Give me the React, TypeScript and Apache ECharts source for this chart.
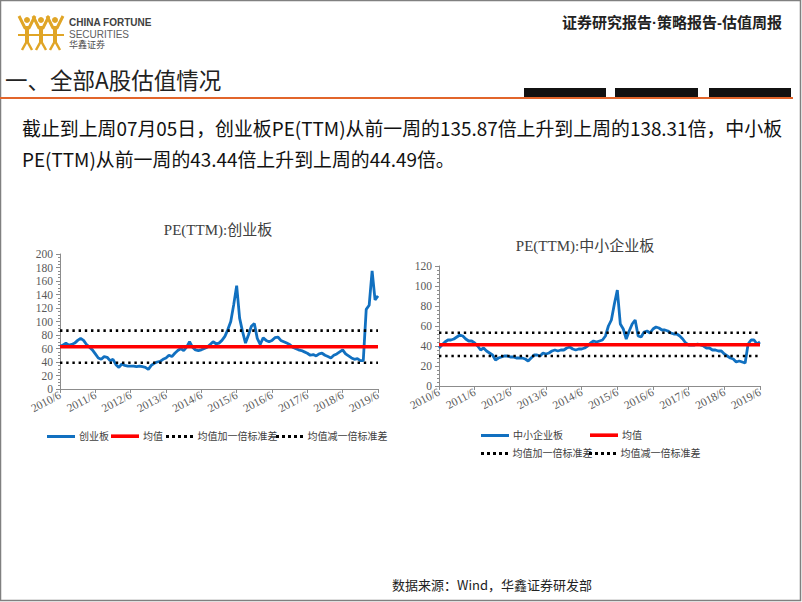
import React, { useEffect, useRef } from "react";
import * as echarts from "echarts";

// Month categories 2010/6 ... 2019/6
const months: string[] = [];
for (let y = 2010; y <= 2019; y++) {
  for (let m = 1; m <= 12; m++) {
    if ((y === 2010 && m < 6) || (y === 2019 && m > 6)) continue;
    months.push(`${y}/${m}`);
  }
}

// 创业板 PE(TTM), monthly readings from the picture
const cybPE = [
  63, 65, 68, 65, 66, 68, 72, // 2010/6-12
  75, 72, 66, 62, 58, 52, 46, 44, 48, 47, 42, 44, // 2011
  36, 32, 37, 35, 34, 34, 34, 33, 34, 33, 32, 29, // 2012
  35, 38, 40, 41, 44, 46, 50, 48, 53, 57, 60, 57, // 2013
  62, 70, 62, 58, 57, 58, 60, 62, 66, 70, 67, 68, // 2014
  72, 78, 88, 100, 125, 153, 105, 85, 68, 80, 93, 97, // 2015
  75, 66, 76, 72, 70, 72, 76, 77, 72, 70, 68, 66, // 2016
  62, 60, 58, 57, 55, 53, 50, 51, 49, 52, 53, 50, // 2017
  48, 46, 50, 52, 55, 58, 52, 49, 46, 44, 45, 42, // 2018
  42, 118, 124, 175, 132, 138, // 2019/1-6
];

// 中小企业板 PE(TTM), monthly readings from the picture
const zxbPE = [
  38, 41, 44, 46, 46, 47, 49, // 2010/6-12
  51, 50, 47, 45, 45, 43, 40, 36, 38, 35, 33, 31, // 2011
  26, 28, 29, 30, 30, 29, 29, 28, 28, 28, 27, 25, // 2012
  28, 31, 31, 30, 33, 32, 33, 35, 36, 35, 36, 36, // 2013
  38, 39, 37, 36, 37, 37, 38, 40, 43, 45, 44, 45, // 2014
  46, 50, 60, 66, 82, 96, 62, 57, 47, 55, 62, 66, // 2015
  50, 49, 54, 55, 53, 57, 59, 58, 56, 56, 55, 53, // 2016
  52, 52, 50, 47, 43, 41, 41, 41, 42, 41, 40, 38, // 2017
  38, 36, 36, 35, 35, 32, 30, 28, 27, 24, 25, 24, // 2018
  23, 42, 46, 46, 42, 44, // 2019/1-6
];

const cybMean = 62.5;
const cybUpper = 86.5;
const cybLower = 39;
const zxbMean = 41.3;
const zxbUpper = 53.3;
const zxbLower = 30;

const cybTicks = { min: 0, max: 200, interval: 20 };
const zxbTicks = { min: 0, max: 120, interval: 20 };

const SERIF = "'Liberation Serif', 'DejaVu Serif', 'Noto Sans CJK SC', serif";
const SANS = "'Noto Sans CJK SC', 'Noto Sans', sans-serif";
const BLUE = "#1170C0";
const RED = "#FF0000";
const AXIS = "#8C8C8C";
const LABEL = "#595959";

const DOT_ICON = "path://M0,0h3v3h-3zM6,0h3v3h-3zM12,0h3v3h-3zM18,0h3v3h-3zM24,0h3v3h-3z";

function xAxisFor(gridIndex: number) {
  return {
    gridIndex,
    type: "category",
    data: months,
    boundaryGap: false,
    axisLine: { lineStyle: { color: AXIS, width: 1 } },
    axisTick: { interval: 11, length: 4, lineStyle: { color: AXIS } },
    axisLabel: {
      interval: 11,
      rotate: 28,
      fontSize: 11.5,
      color: LABEL,
      fontFamily: SERIF,
      margin: 5,
    },
    splitLine: { show: false },
  };
}

function yAxisFor(gridIndex: number, t: { min: number; max: number; interval: number }, minorSplit: number) {
  return {
    gridIndex,
    type: "value",
    min: t.min,
    max: t.max,
    interval: t.interval,
    axisLine: { show: true, lineStyle: { color: AXIS, width: 1 } },
    axisTick: { show: true, length: 4, lineStyle: { color: AXIS } },
    minorTick: { show: true, splitNumber: minorSplit, length: 2, lineStyle: { color: AXIS } },
    axisLabel: { fontSize: 11.5, color: LABEL, fontFamily: SERIF, margin: 7 },
    splitLine: { show: false },
  };
}

function refLines(gi: number, mean: number, upper: number, lower: number) {
  const dotted = { color: "#000", width: 2.6, type: [2.4, 3.8], cap: "butt" };
  return [
    {
      type: "line", name: "均值", xAxisIndex: gi, yAxisIndex: gi,
      data: months.map(() => mean), symbol: "none", z: 4,
      lineStyle: { color: RED, width: 3.6 }, itemStyle: { color: RED },
    },
    {
      type: "line", name: "均值加一倍标准差", xAxisIndex: gi, yAxisIndex: gi,
      data: months.map(() => upper), symbol: "none", z: 5,
      lineStyle: dotted, itemStyle: { color: "#000" },
    },
    {
      type: "line", name: "均值减一倍标准差", xAxisIndex: gi, yAxisIndex: gi,
      data: months.map(() => lower), symbol: "none", z: 5,
      lineStyle: dotted, itemStyle: { color: "#000" },
    },
  ];
}

function legendItem(name: string, left: number, top: number, icon: string, h: number) {
  return {
    data: [{ name, icon }],
    left,
    top: top + (10 - h) / 2,
    itemWidth: 28,
    itemHeight: h,
    itemGap: 0,
    padding: 0,
    selectedMode: false,
    textStyle: { fontSize: 10, color: "#404040", fontFamily: SERIF, padding: [0, 0, 0, -1] },
  };
}

function logoFigure(cx: number) {
  const gold = "#E0A526";
  return [
    { type: "circle", shape: { cx, cy: 20, r: 3 }, style: { fill: gold } },
    {
      type: "polyline",
      shape: { points: [[cx - 8, 16], [cx - 2, 28], [cx + 2, 28], [cx + 8, 16]] },
      style: { stroke: gold, lineWidth: 3, fill: null, lineJoin: "round" },
    },
    { type: "line", shape: { x1: cx, y1: 26, x2: cx, y2: 42 }, style: { stroke: gold, lineWidth: 4 } },
    {
      type: "polyline",
      shape: { points: [[cx - 5, 50], [cx, 41], [cx + 5, 50]] },
      style: { stroke: gold, lineWidth: 2.5, fill: null },
    },
  ];
}

export default function App() {
  const ref = useRef<HTMLDivElement>(null);
  useEffect(() => {
    if (!ref.current) return;
    const chart = echarts.init(ref.current, undefined, { renderer: "svg" });
    const option: any = {
      animation: false,
      backgroundColor: "#ffffff",
      title: [
        {
          text: "PE(TTM):创业板",
          left: 213,
          top: 217,
          textAlign: "center",
          textStyle: { fontSize: 15, fontWeight: "normal", color: "#404040", fontFamily: SERIF },
        },
        {
          text: "PE(TTM):中小企业板",
          left: 580,
          top: 233,
          textAlign: "center",
          textStyle: { fontSize: 15, fontWeight: "normal", color: "#404040", fontFamily: SERIF },
        },
      ],
      grid: [
        { left: 60, top: 254, width: 318, height: 135, containLabel: false },
        { left: 439, top: 266, width: 321, height: 120, containLabel: false },
      ],
      xAxis: [xAxisFor(0), xAxisFor(1)],
      yAxis: [yAxisFor(0, cybTicks, 4), yAxisFor(1, zxbTicks, 5)],
      legend: [
        legendItem("创业板", 47, 428, "rect", 3),
        legendItem("均值", 111, 428, "rect", 3.6),
        legendItem("均值加一倍标准差", 166, 428, DOT_ICON, 3),
        legendItem("均值减一倍标准差", 276, 428, DOT_ICON, 3),
        legendItem("中小企业板", 481, 427, "rect", 3),
        legendItem("均值", 590, 427, "rect", 3.6),
        legendItem("均值加一倍标准差", 481, 445, DOT_ICON, 3),
        legendItem("均值减一倍标准差", 589, 445, DOT_ICON, 3),
      ],
      series: [
        {
          type: "line", name: "创业板", xAxisIndex: 0, yAxisIndex: 0, data: cybPE,
          symbol: "none", z: 3, lineStyle: { color: BLUE, width: 2.8 }, itemStyle: { color: BLUE },
        },
        ...refLines(0, cybMean, cybUpper, cybLower),
        {
          type: "line", name: "中小企业板", xAxisIndex: 1, yAxisIndex: 1, data: zxbPE,
          symbol: "none", z: 3, lineStyle: { color: BLUE, width: 2.8 }, itemStyle: { color: BLUE },
        },
        ...refLines(1, zxbMean, zxbUpper, zxbLower),
      ],
      graphic: [
        // slide border
        {
          type: "rect", shape: { x: 0.5, y: 0.5, width: 800, height: 600 },
          style: { fill: null, stroke: "#808080", lineWidth: 1.5 }, silent: true,
        },
        // logo
        ...logoFigure(27),
        ...logoFigure(41),
        ...logoFigure(55),
        { type: "line", shape: { x1: 18, y1: 35, x2: 64, y2: 35 }, style: { stroke: "#E0A526", lineWidth: 2 } },
        {
          type: "text", left: 69, top: 17,
          style: { text: "CHINA FORTUNE", fontSize: 10, fontWeight: "bold", fill: "#404040", fontFamily: "'Liberation Sans Narrow', 'Liberation Sans', sans-serif" },
        },
        {
          type: "text", left: 69, top: 29,
          style: { text: "SECURITIES", fontSize: 10, fill: "#606060", fontFamily: "'Liberation Sans Narrow', 'Liberation Sans', sans-serif" },
        },
        {
          type: "text", left: 69, top: 40,
          style: { text: "华鑫证券", fontSize: 9, fill: "#505050", fontFamily: SANS },
        },
        // header right
        {
          type: "text", right: 20, top: 15,
          style: { text: "证券研究报告·策略报告-估值周报", fontSize: 15, fontWeight: "bold", fill: "#222", fontFamily: "'Liberation Sans', 'Noto Sans CJK SC', sans-serif" },
        },
        // section title
        {
          type: "text", left: 5, top: 68,
          style: { text: "一、全部A股估值情况", fontSize: 22.5, fill: "#222", fontFamily: SANS },
        },
        // orange rule + black bars
        { type: "rect", shape: { x: 0, y: 97, width: 793, height: 2 }, style: { fill: "#E2652B" } },
        { type: "rect", shape: { x: 524, y: 88, width: 82, height: 9 }, style: { fill: "#111" } },
        { type: "rect", shape: { x: 615, y: 88, width: 83, height: 9 }, style: { fill: "#111" } },
        { type: "rect", shape: { x: 709, y: 88, width: 82, height: 9 }, style: { fill: "#111" } },
        // body text
        {
          type: "text", left: 22, top: 118,
          style: { text: "截止到上周07月05日，创业板PE(TTM)从前一周的135.87倍上升到上周的138.31倍，中小板", fontSize: 18.9, fill: "#111", fontFamily: SANS },
        },
        {
          type: "text", left: 22, top: 149,
          style: { text: "PE(TTM)从前一周的43.44倍上升到上周的44.49倍。", fontSize: 18.9, fill: "#111", fontFamily: SANS },
        },
        // footer
        {
          type: "text", left: 392, top: 578,
          style: { text: "数据来源：Wind，华鑫证券研发部", fontSize: 13, fill: "#222", fontFamily: SANS, align: "center" },
        },
      ],
    };
    chart.setOption(option);
    return () => chart.dispose();
  }, []);
  return (
    <div
      ref={ref}
      style={{ position: "fixed", left: 0, top: 0, width: 802, height: 602, background: "#fff" }}
    />
  );
}
